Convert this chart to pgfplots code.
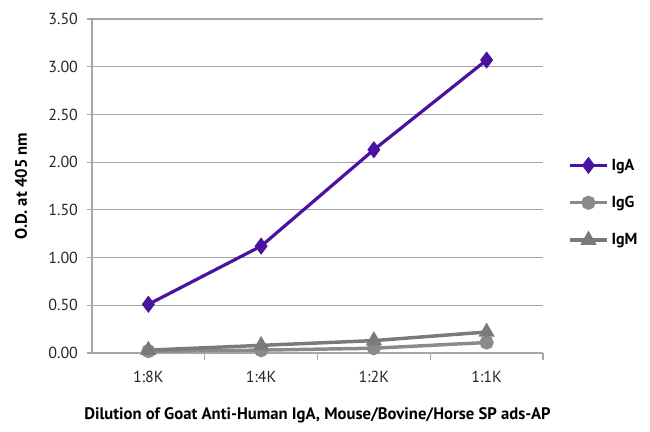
\documentclass[border=0pt]{standalone}
\usepackage{pgfplots}
\pgfplotsset{compat=1.18}
\usepackage{fontspec}
\setmainfont{PT Sans}
\definecolor{iga}{HTML}{4A12A0}
\definecolor{igg}{HTML}{8A8A8A}
\definecolor{igm}{HTML}{7A7A7A}
\definecolor{gridc}{HTML}{A6A6A6}
\begin{document}
\begin{tikzpicture}
\path[use as bounding box] (0,0) rectangle (487.5pt,324pt);
\begin{axis}[
  at={(69pt,59.25pt)}, anchor=south west,
  scale only axis, width=338.25pt, height=250.5pt,
  xmin=0.5, xmax=4.5, ymin=0, ymax=3.5,
  axis x line=bottom, axis y line=left,
  axis line style={draw=gridc, line width=0.9pt, -},
  xtick={1,2,3,4}, xticklabels={1:8K,1:4K,1:2K,1:1K},
  x tick style={draw=none},
  extra x ticks={1.5,2.5,3.5,4.5}, extra x tick labels={},
  extra x tick style={tick align=outside, major tick length=5pt, x tick style={draw=gridc, line width=0.9pt}},
  ytick={0,0.5,...,3.5},
  y tick style={draw=gridc, line width=0.9pt},
  tick align=outside, major tick length=4pt,
  ymajorgrids, grid style={draw=gridc, line width=0.9pt},
  yticklabel style={/pgf/number format/fixed, /pgf/number format/fixed zerofill, /pgf/number format/precision=2, xshift=-3pt},
  /pgf/number format/assume math mode=true,
  ticklabel style={font=\fontsize{12}{14}\selectfont, text=black!85},
  xticklabel style={yshift=-6pt},
  ylabel={\bfseries O.D. at 405 nm},
  ylabel style={font=\fontsize{12.5}{14}\selectfont, at={(ticklabel cs:0.5)}, yshift=9pt},
  xlabel={\bfseries Dilution of Goat Anti-Human IgA, Mouse/Bovine/Horse SP ads-AP},
  xlabel style={font=\fontsize{12.5}{14}\selectfont, yshift=-3pt},
  legend style={draw=none, fill=none, at={(1.055,0.45)}, anchor=west,
    font=\bfseries\fontsize{12}{14}\selectfont, row sep=14pt, inner sep=0pt},
  legend cell align=left,
  legend image code/.code={\draw[#1] (0pt,0pt) -- (28pt,0pt); \draw[#1, only marks] plot coordinates {(14pt,0pt)};},
  clip=false,
]
\addplot[iga, line width=2.4pt, mark=diamond*, mark size=4.5pt, mark options={solid}] coordinates {(1,0.51) (2,1.12) (3,2.13) (4,3.07)};
\addlegendentry{IgA}
\addplot[igg, line width=2.6pt, mark=*, mark size=4pt] coordinates {(1,0.02) (2,0.03) (3,0.05) (4,0.11)};
\addlegendentry{IgG}
\addplot[igm, line width=2.6pt, mark=triangle*, mark size=4.5pt] coordinates {(1,0.03) (2,0.08) (3,0.13) (4,0.22)};
\addlegendentry{IgM}
\end{axis}
\end{tikzpicture}
\end{document}
